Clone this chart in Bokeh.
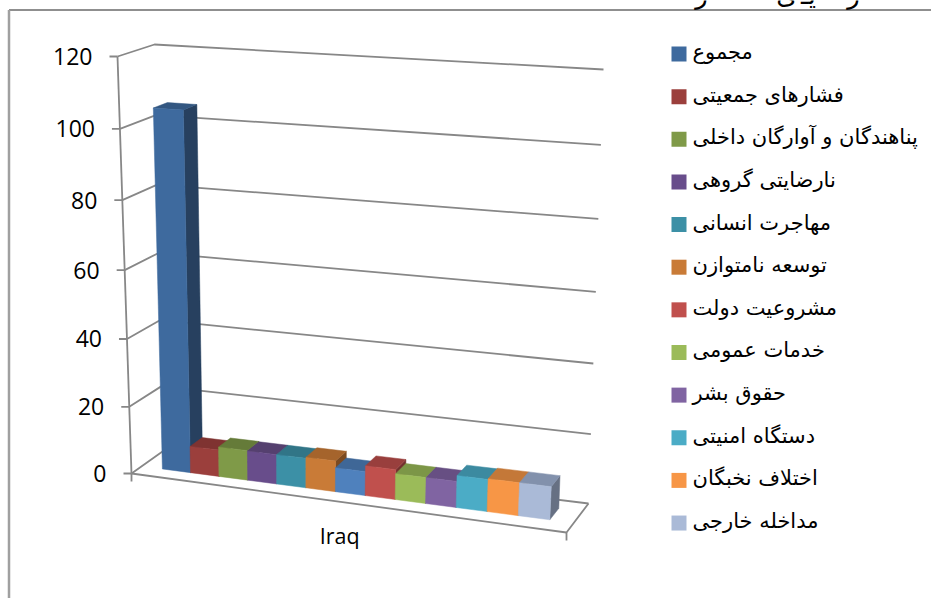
from bokeh.embed import file_html
from bokeh.resources import INLINE
from bokeh.plotting import figure
from bokeh.models import Range1d
from bokeh.core.properties import value

# ---- data ----
tick_values = [0, 20, 40, 60, 80, 100, 120]
tick_labels = ["0", "20", "40", "60", "80", "100", "120"]
category = "Iraq"
bar_values = [105, 7.9, 8.8, 8.7, 8.7, 9.0, 7.0, 8.7, 7.5, 7.5, 9.2, 9.4, 9.4]
bar_colors = ["#3E6A9E", "#9B3F3C", "#7F9A48", "#684D8B", "#3C90A6", "#C97B37",
              "#4F81BD", "#C0504D", "#9BBB59", "#8064A2", "#4BACC6", "#F79646", "#AABAD7"]
top_colors = ["#335781", "#7F3331", "#657B39", "#55406F", "#317587", "#A5642C",
              "#3F6797", "#993F3D", "#7C9647", "#674F83", "#3C8AA0", "#C47838", "#8291AC"]
side_colors = ["#27405F", "#5E2624", "#4C5C2B", "#3E2F53", "#245766", "#7B4A21",
               "#2F4D71", "#73302E", "#5D7035", "#4D3B61", "#2D6777", "#94592A", "#667083"]
legend_names = ["مجموع", "فشارهای جمعیتی", "پناهندگان و آوارگان داخلی", "نارضایتی گروهی",
                "مهاجرت انسانی", "توسعه نامتوازن", "مشروعیت دولت", "خدمات عمومی",
                "حقوق بشر", "دستگاه امنیتی", "اختلاف نخبگان", "مداخله خارجی"]
legend_colors = ["#3E6A9E", "#9B3F3C", "#7F9A48", "#684D8B", "#3C90A6", "#C97B37",
                 "#C0504D", "#9BBB59", "#8064A2", "#4BACC6", "#F79646", "#AABAD7"]
# the only fragments of the title that show above the picture's top edge
title_bits = ["ر", "ی", "يـ", "ر"]
title_x = [701, 786, 808, 853]

# ---- projection of the chart's 3D box onto the page ----
A, B = (131, 473), (566, 532)    # floor front left / right
C, D = (162, 451), (588, 503)    # floor back left / right
E, H = (117, 56), (590, 84)      # top front left / right
F, G = (154, 44), (603, 69)      # top back left / right
RX, RV = 1.07, 1.05
Y_MAX = 120
BAR_T0, BAR_T1 = 0.051, 0.948
BAR_W0, BAR_W1 = 0.33, 0.73

def warp(t, r):
    return t / (r + (1 - r) * t)

def lerp(a, b, t):
    return (a[0] + (b[0] - a[0]) * t, a[1] + (b[1] - a[1]) * t)

def project(t, v, w):
    s = warp(t, RX)
    z = warp(v / Y_MAX, RV)
    front = lerp(lerp(A, B, s), lerp(E, H, s), z)
    back = lerp(lerp(C, D, s), lerp(F, G, s), z)
    return lerp(front, back, w)

GRID = "#878787"
LW = 1.8
p = figure(width=931, height=598, output_backend="svg", toolbar_location=None,
           x_range=Range1d(0, 931), y_range=Range1d(598, 0),
           x_axis_type=None, y_axis_type=None, min_border=0, outline_line_color=None)
p.grid.visible = False

# frame of the pasted picture
p.line([8.5, 931], [9.5, 9.5], line_color="#8F8F8F", line_width=2)
p.line([8.5, 8.5], [9.5, 598], line_color="#A0A0A0", line_width=2.5)

# walls, floor, ticks
for v in tick_values:
    a, b, c = project(0, v, 0), project(0, v, 1), project(1, v, 1)
    p.line([a[0], b[0], c[0]], [a[1], b[1], c[1]], line_color=GRID, line_width=LW)
    p.line([a[0] - 8, a[0]], [a[1], a[1]], line_color=GRID, line_width=LW)
pts = [project(0, 0, 0), project(1, 0, 0), project(1, 0, 1)]
p.line([q[0] for q in pts], [q[1] for q in pts], line_color=GRID, line_width=LW)
pts = [project(0, 0, 0), project(0, Y_MAX, 0)]
p.line([q[0] for q in pts], [q[1] for q in pts], line_color=GRID, line_width=LW)
for t in (0, 1):
    q = project(t, 0, 0)
    p.line([q[0], q[0]], [q[1], q[1] + 8], line_color=GRID, line_width=LW)

for v, lab in zip(tick_values, tick_labels):
    q = project(0, v, 0)
    p.text([q[0] - 25], [q[1]], text=[lab], text_align="right", text_baseline="middle",
           text_font=value("Open Sans"), text_font_size="23px", text_color="#000000")

# bars
n = len(bar_values)
bw = (BAR_T1 - BAR_T0) / n
for i, val in enumerate(bar_values):
    t0, t1 = BAR_T0 + i * bw, BAR_T0 + (i + 1) * bw
    f00, f10 = project(t0, 0, BAR_W0), project(t1, 0, BAR_W0)
    f01, f11 = project(t0, val, BAR_W0), project(t1, val, BAR_W0)
    b10, b11 = project(t1, 0, BAR_W1), project(t1, val, BAR_W1)
    b01 = project(t0, val, BAR_W1)
    for poly, col in (([f10, b10, b11, f11], side_colors[i]),
                      ([f01, f11, b11, b01], top_colors[i]),
                      ([f00, f10, f11, f01], bar_colors[i])):
        p.patch([q[0] for q in poly], [q[1] for q in poly], fill_color=col, line_color=col,
                line_width=0.5)

# category label
q = project(0.5, 0, 0)
p.text([q[0] - 2], [q[1] + 33], text=[category], text_align="center", text_baseline="middle",
       text_font=value("Open Sans"), text_font_size="21.5px", text_color="#000000")

# legend
LEG_X, LEG_Y0, LEG_STEP, SW = 671, 53.5, 42.64, 15
for i, (name, col) in enumerate(zip(legend_names, legend_colors)):
    y = LEG_Y0 + i * LEG_STEP
    p.rect([LEG_X + SW / 2], [y], width=SW, height=SW, fill_color=col, line_color=None)
    p.text([LEG_X + SW + 6], [y - 2], text=[name], text_align="left", text_baseline="middle",
           text_font=value("DejaVu Sans"), text_font_size="21px", text_color="#000000")

# clipped title fragments
p.text(title_x, [-6] * len(title_x), text=title_bits, text_align="center",
       text_baseline="alphabetic", text_font=value("DejaVu Sans"), text_font_size="26px",
       text_color="#000000")

open("out.html", "w").write(file_html(p, INLINE))
